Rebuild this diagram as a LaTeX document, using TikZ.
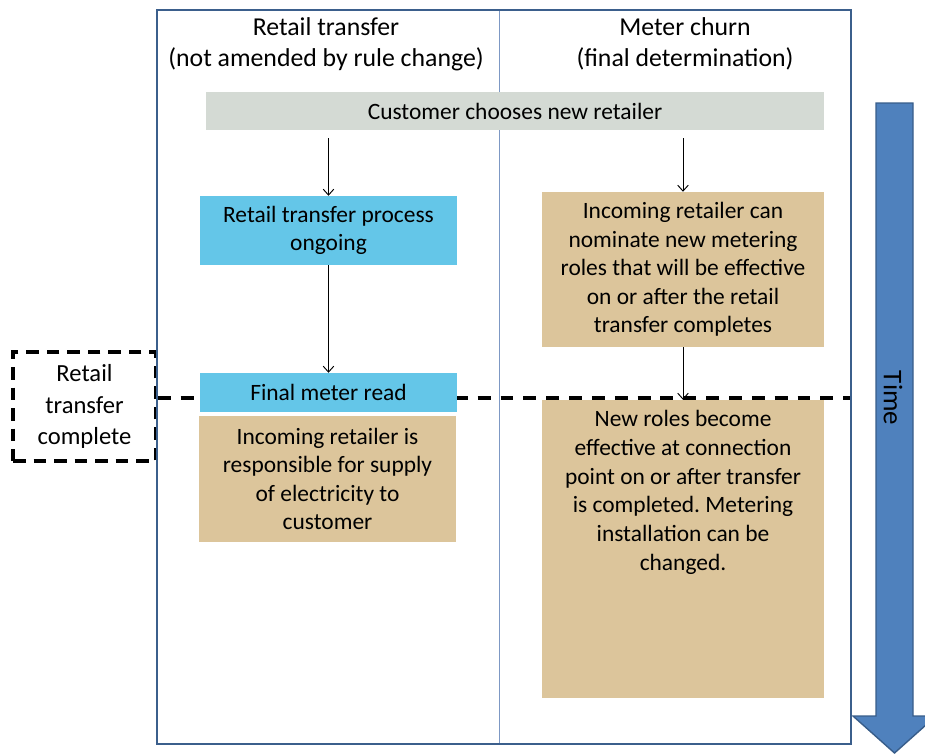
\documentclass[tikz,border=0pt]{standalone}
\usepackage{fontspec}
\setmainfont{Carlito}
\usetikzlibrary{arrows.meta,positioning,calc}
\definecolor{framebl}{RGB}{59,95,140}
\definecolor{laneline}{RGB}{125,152,196}
\definecolor{startgray}{RGB}{212,218,212}
\definecolor{procblue}{RGB}{100,198,232}
\definecolor{resptan}{RGB}{220,197,155}
\definecolor{timebl}{RGB}{79,129,189}
\definecolor{timeedge}{RGB}{56,93,138}
\frenchspacing

\begin{document}
\begin{tikzpicture}[x=0.03cm, y=-0.03cm,
    boxtext/.style={inner sep=0pt, align=center, font=\fontsize{20}{24.4}\selectfont},
    startbox/.style={boxtext, fill=startgray},
    procbox/.style={boxtext, fill=procblue, minimum width=7.71cm},
    tanbox/.style={boxtext, fill=resptan},
    lanehead/.style={align=center, font=\fontsize{22}{26.5}\selectfont},
    flow/.style={line width=0.8pt, -{Straight Barb[length=5pt,width=9pt]}},
    cutline/.style={line width=3.2pt, dash pattern=on 11pt off 8.5pt}]
  \useasboundingbox (0,0) rectangle (925,754);

  % --- time arrow on the right
  \filldraw[fill=timebl, draw=timeedge, line width=1.2pt]
    (876,103) -- (913,103) -- (913,716) -- (936,716) -- (894.5,753)
    -- (853,716) -- (876,716) -- cycle;
  \node[rotate=-90, font=\fontsize{23}{27}\selectfont] (timelbl) at (893,398) {Time};

  % --- lanes
  \draw[laneline, line width=0.8pt] (499,10) -- (499,744);
  \node[lanehead] (rthead) at (326,44) {Retail transfer\\(not amended by rule change)};
  \node[lanehead] (mchead) at (685,44) {Meter churn\\(final determination)};

  % --- transfer complete marker
  \node[draw, cutline, dash pattern=on 11pt off 6.5pt, minimum width=4.29cm, minimum height=3.27cm,
        align=center, font=\fontsize{21}{26.9}\selectfont] (complete) at (84.5,406.5)
        {Retail\\transfer\\complete};
  \coordinate (cutend) at (851,398);
  \draw[cutline] (complete.east |- cutend) -- (cutend);

  % --- boxes
  \node[startbox, minimum width=18.54cm, minimum height=1.14cm] (choose) at (515,111)
        {Customer chooses new retailer};
  \node[procbox, minimum height=2.07cm] (ongoing) at (328.5,230.5)
        {Retail transfer process\\ongoing};
  \node[procbox, minimum height=1.17cm] (finalread) at (328.5,392.5) {Final meter read};
  \node[tanbox, minimum width=7.71cm, minimum height=3.78cm] (supply) at (327.5,479)
        {Incoming retailer is\\responsible for supply\\of electricity to\\customer};
  \node[tanbox, minimum width=8.46cm, minimum height=4.65cm] (nominate) at (683,269.5)
        {Incoming retailer can\\nominate new metering\\roles that will be effective\\on or after the retail\\transfer completes};
  \node[tanbox, minimum width=8.46cm, minimum height=8.94cm] (roles) at (683,549) {};
  \node[boxtext, anchor=north, font=\fontsize{20}{24.6}\selectfont] (rolestext) at (683,410)
        {New roles become\\effective at connection\\point on or after transfer\\is completed. Metering\\installation can be\\changed.};

  % --- flow arrows
  \draw[flow, shorten <=0.24cm] (choose.south -| ongoing.north) -- (ongoing.north);
  \draw[flow, shorten <=0.24cm] (choose.south -| nominate.north) -- (nominate.north);
  \draw[flow] (ongoing) -- (finalread);
  \draw[flow] (nominate) -- (roles);

  % --- outer frame
  \draw[framebl, line width=1.7pt] (157,10) rectangle (851,744);
\end{tikzpicture}
\end{document}
